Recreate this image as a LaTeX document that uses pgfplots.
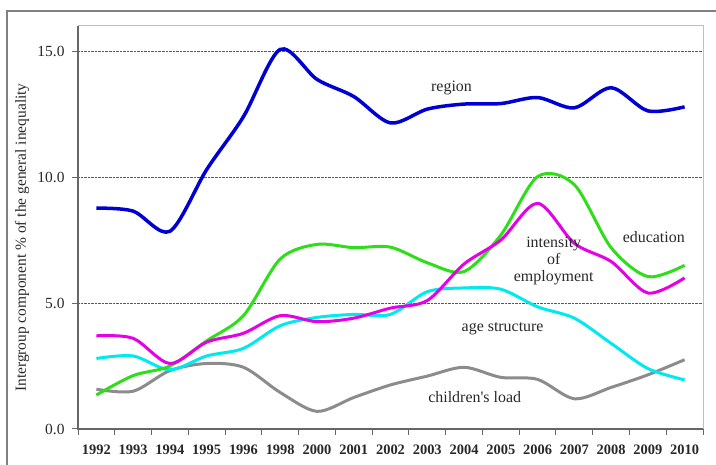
\documentclass[border=0pt]{standalone}
\usepackage{fontspec}
\setmainfont{Liberation Serif}
\usepackage{pgfplots}
\pgfplotsset{compat=1.18}
\usepackage{pgfplotstable}
\definecolor{cregion}{RGB}{0,0,210}
\definecolor{cedu}{RGB}{45,222,25}
\definecolor{cint}{RGB}{230,0,230}
\definecolor{cage}{RGB}{0,232,240}
\definecolor{cchild}{RGB}{140,140,140}
\definecolor{ctext}{RGB}{40,40,40}

\pgfplotstableread{
x region edu int age child
0  8.77 1.35 3.70 2.80 1.58
1  8.65 2.12 3.60 2.90 1.50
2  7.85 2.50 2.60 2.35 2.32
3  10.3 3.50 3.45 2.90 2.60
4  12.4 4.50 3.80 3.20 2.45
5  15.07 6.75 4.50 4.10 1.45
6  13.88 7.33 4.26 4.43 0.70
7  13.2 7.20 4.40 4.55 1.25
8  12.15 7.22 4.80 4.55 1.75
9  12.7 6.60 5.10 5.45 2.10
10 12.9 6.25 6.55 5.60 2.45
11 12.92 7.70 7.50 5.55 2.05
12 13.16 10.02 8.96 4.85 1.97
13 12.75 9.70 7.37 4.40 1.20
14 13.55 7.20 6.65 3.40 1.65
15 12.63 6.05 5.40 2.40 2.15
16 12.79 6.50 6.00 1.95 2.75
}\data

\begin{document}
\begin{tikzpicture}[x=1bp,y=1bp]
\useasboundingbox (0,0) rectangle (716,465);
\draw[black!50, line width=1.2bp] (7,0) -- (7,454) -- (716,454);
\begin{axis}[
  at={(78bp,36bp)}, anchor=south west,
  scale only axis, width=625bp, height=403bp,
  xmin=-0.5, xmax=16.5, ymin=0, ymax=16,
  axis line style={draw=black!25, line width=1bp},
  tick align=outside,
  xtick pos=left, ytick pos=left,
  major tick length=6bp,
  tick style={draw=black!60, line width=1bp},
  xtick={-0.5,0.5,...,16.5},
  xticklabels={},
  extra x ticks={0,1,...,16},
  extra x tick labels={1992,1993,1994,1995,1996,1998,2000,2001,2002,2003,2004,2005,2006,2007,2008,2009,2010},
  extra x tick style={major tick length=0pt, grid=none,
     tick label style={font=\fontsize{14.5}{16}\selectfont\bfseries, text=ctext, yshift=-12bp}},
  ytick={0,5,10,15},
  yticklabel style={font=\fontsize{15.5}{17}\selectfont, text=ctext, xshift=-4bp,
     /pgf/number format/.cd, fixed, fixed zerofill, precision=1, assume math mode=true},
  ymajorgrids,
  grid style={densely dotted, black!65, line width=1bp},
  ylabel={Intergroup component \% of the general inequality},
  every axis y label/.style={at={(axis description cs:-0.0896,0.475)}, rotate=90, anchor=center,
     font=\fontsize{15.5}{17}\selectfont, text=ctext},
  clip=false,
]
\addplot[cchild, line width=3bp, smooth, tension=0.5] table[x=x, y=child] {\data};
\addplot[cage, line width=3bp, smooth, tension=0.5] table[x=x, y=age] {\data};
\addplot[cedu, line width=3bp, smooth, tension=0.5] table[x=x, y=edu] {\data};
\addplot[cint, line width=3bp, smooth, tension=0.5] table[x=x, y=int] {\data};
\addplot[cregion, line width=3.5bp, smooth, tension=0.5] table[x=x, y=region] {\data};

\draw[black!60, line width=1.2bp] (rel axis cs:0,1) -- (rel axis cs:0,0) -- (rel axis cs:1,0);

\node[text=ctext, font=\fontsize{16}{18}\selectfont] at (axis cs:9.66,13.53) {region};
\node[text=ctext, font=\fontsize{16}{18}\selectfont] at (axis cs:15.16,7.62) {education};
\node[text=ctext, font=\fontsize{16}{17.5}\selectfont, align=center] at (axis cs:12.44,6.67) {intensity\\of\\employment};
\node[text=ctext, font=\fontsize{16}{18}\selectfont] at (axis cs:11.05,4.0) {age structure};
\node[text=ctext, font=\fontsize{16}{18}\selectfont] at (axis cs:10.29,1.27) {children\textquotesingle s load};
\end{axis}
\end{tikzpicture}
\end{document}
